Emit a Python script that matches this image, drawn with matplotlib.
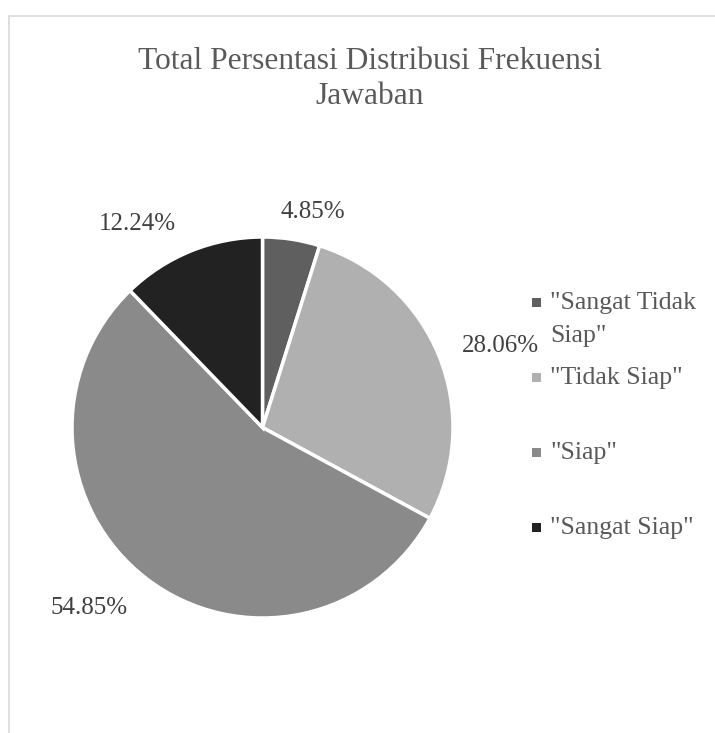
import matplotlib.pyplot as plt
from matplotlib.patches import Rectangle

# data
categories = ['"Sangat Tidak Siap"', '"Tidak Siap"', '"Siap"', '"Sangat Siap"']
legend_labels = ['"Sangat Tidak\nSiap"', '"Tidak Siap"', '"Siap"', '"Sangat Siap"']
percentages = [4.85, 28.06, 54.85, 12.24]
colors = ['#5f5f5f', '#b0b0b0', '#8a8a8a', '#222222']

# where Excel put the data labels (pie radius units)
label_pos = [(0.262, 1.129), (1.247, 0.430), (-0.911, -0.948), (-0.659, 1.068)]

plt.rcParams['font.family'] = ['Liberation Serif', 'DejaVu Serif']

W, H = 715, 733
fig = plt.figure(figsize=(W / 100, H / 100), dpi=100)

# chart border (runs off right/bottom like the screenshot)
fig.add_artist(Rectangle((9 / W, -0.1), 1.2, 1 - 16 / H + 0.1, transform=fig.transFigure,
                         fill=False, edgecolor='#d9d9d9', linewidth=1.2))

cx, cy, r = 262.5, 427.5, 190.5
ax = fig.add_axes([(cx - r) / W, (H - cy - r) / H, 2 * r / W, 2 * r / H])
wedges, texts, autotexts = ax.pie(percentages, colors=colors, startangle=90, counterclock=False,
                                  radius=1, autopct='%.2f%%',
                                  wedgeprops=dict(edgecolor='white', linewidth=2.5),
                                  textprops=dict(fontsize=18, color='#404040'))
for t, pos in zip(autotexts, label_pos):
    t.set_position(pos)
    t.set_ha('center')
    t.set_va('center')
ax.set_xlim(-1, 1)
ax.set_ylim(-1, 1)
ax.axis('off')

fig.text(370 / W, 1 - 79 / H, 'Total Persentasi Distribusi Frekuensi\nJawaban',
         ha='center', va='center', fontsize=22.7, color='#595959', linespacing=1.3)

# legend, drawn Excel style with small squares; wrapped labels drawn line by line
for i, (lab, col) in enumerate(zip(legend_labels, colors)):
    yc = 302 + 75 * i
    fig.add_artist(Rectangle((532 / W, 1 - (yc + 4.5) / H), 9 / W, 9 / H,
                             transform=fig.transFigure, facecolor=col, edgecolor='none'))
    for j, line in enumerate(lab.split('\n')):
        fig.text(550 / W, 1 - (yc + 7 + 33 * j) / H, line, ha='left', va='baseline',
                 fontsize=18.5, color='#595959')

plt.savefig('out.png', dpi=100)
